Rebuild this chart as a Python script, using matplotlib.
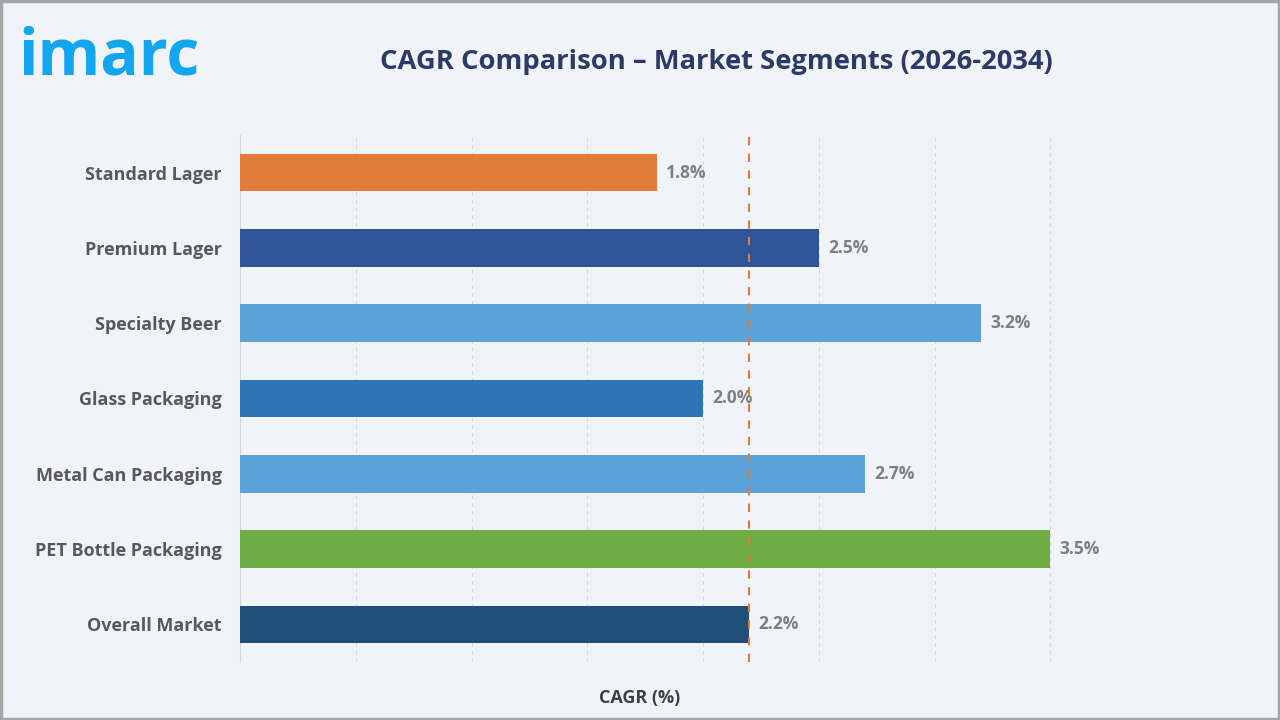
import matplotlib.pyplot as plt
from matplotlib.patches import Rectangle

# data
categories = ["Standard Lager", "Premium Lager", "Specialty Beer", "Glass Packaging",
              "Metal Can Packaging", "PET Bottle Packaging", "Overall Market"]
cagr = [1.8, 2.5, 3.2, 2.0, 2.7, 3.5, 2.2]
bar_colors = ["#E07B39", "#2E5597", "#5BA3D9", "#2E75B6", "#5BA3D9", "#70AD47", "#1F4E79"]
overall_cagr = 2.2

plt.rcParams['font.family'] = ['Open Sans', 'DejaVu Sans']

fig = plt.figure(figsize=(12.8, 7.2), dpi=100)
fig.patch.set_facecolor("#F0F3F8")
# gray frame around the whole picture
fig.patches.append(Rectangle((0.001, 0.002), 0.998, 0.996, transform=fig.transFigure,
                             fill=False, edgecolor="#A6A6A6", linewidth=2.5))

ax = fig.add_axes([0.1875, 0.0806, 0.7235, 0.7319])
ax.set_facecolor("#F0F3F8")

y = list(range(len(categories)))
ax.barh(y, cagr, height=0.5, color=bar_colors, zorder=3)
for yi, v in zip(y, cagr):
    ax.text(v + 0.04, yi, f"{v}%", va="center", ha="left", fontsize=12.5,
            fontweight="bold", color="#7F7F7F", zorder=4)

ax.axvline(overall_cagr, color="#E07B39", linestyle=(0, (4, 4)), linewidth=1.5, zorder=4)

ax.set_xlim(0, 4)
ax.set_ylim(6.5, -0.5)
ax.set_xticks([0.5 * i for i in range(9)])
ax.set_xticklabels([])
ax.tick_params(axis="x", length=0)
ax.tick_params(axis="y", length=0, pad=13)
ax.set_yticks(y)
ax.set_yticklabels(categories, fontsize=13, fontweight="bold", color="#595959")
ax.grid(axis="x", color="#D4D6DA", linestyle=(0, (4, 4)), linewidth=0.7, zorder=0)
for s in ["top", "right", "bottom"]:
    ax.spines[s].set_visible(False)
ax.spines["left"].set_color("#D4D6DA")
ax.spines["left"].set_linewidth(0.8)

fig.text(0.5, 0.031, "CAGR (%)", ha="center", va="center", fontsize=13,
         fontweight="bold", color="#404040")
fig.text(0.560, 0.914, "CAGR Comparison – Market Segments (2026-2034)", ha="center",
         va="center", fontsize=19.7, fontweight="bold", color="#2B3A67")
fig.text(0.014, 0.92, "imarc", ha="left", va="center", fontsize=46,
         fontweight="bold", color="#12A5F0")

fig.savefig("out.png", dpi=100, facecolor=fig.get_facecolor())
